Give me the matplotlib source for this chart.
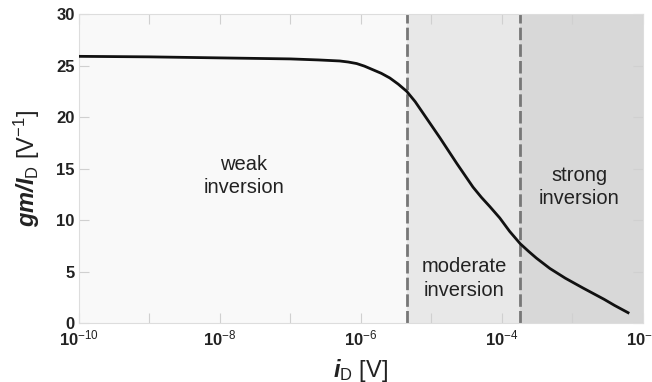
import numpy as np
import matplotlib.pyplot as plt
from matplotlib.ticker import FixedLocator, NullLocator

plt.rcParams['font.family'] = ['Liberation Sans', 'DejaVu Sans']
plt.rcParams['mathtext.fontset'] = 'custom'
plt.rcParams['mathtext.rm'] = 'Liberation Sans'
plt.rcParams['mathtext.it'] = 'Liberation Sans:italic'
plt.rcParams['mathtext.bf'] = 'Liberation Sans:bold'
plt.rcParams['mathtext.bfit'] = 'Liberation Sans:italic:bold'

# gm/Id curve (log10 of drain current, gm/Id in 1/V)
log_id = [-10, -9, -8, -7, -6.6, -6.3, -6.18, -6.06, -5.95, -5.83, -5.71, -5.59,
          -5.47, -5.35, -5.23, -5.12, -5.0, -4.88, -4.76, -4.64, -4.52, -4.41,
          -4.29, -4.17, -4.03, -3.89, -3.74, -3.62, -3.51, -3.32,
          -3.1, -2.85, -2.7, -2.55, -2.4, -2.21]
gm_id = [25.9, 25.85, 25.75, 25.65, 25.55, 25.45, 25.35, 25.2, 24.95, 24.6, 24.25, 23.8,
         23.2, 22.5, 21.5, 20.4, 19.2, 18.0, 16.75, 15.5, 14.3, 13.2,
         12.2, 11.3, 10.2, 8.9, 7.7, 6.95, 6.3, 5.3,
         4.35, 3.4, 2.85, 2.3, 1.7, 1.0]

# region boundaries
bound_weak = 4.5e-6
bound_strong = 1.8e-4

i_d = 10.0 ** np.array(log_id)

fig = plt.figure(figsize=(6.52, 3.82), dpi=100)
ax = fig.add_axes([0.121, 0.1545, 0.865, 0.8085])

ax.axvspan(1e-10, bound_weak, color='#f9f9f9', zorder=0)
ax.axvspan(bound_weak, bound_strong, color='#e8e8e8', zorder=0)
ax.axvspan(bound_strong, 1e-2, color='#d8d8d8', zorder=0)

ax.axvline(bound_weak, color='#777777', lw=2, ls=(0, (4.5, 1.5)), zorder=2)
ax.axvline(bound_strong, color='#777777', lw=2, ls=(0, (4.5, 1.5)), zorder=2)

ax.plot(i_d, gm_id, color='#111111', lw=2, solid_joinstyle='round', zorder=3)

ax.set_xscale('log')
ax.set_xlim(1e-10, 1e-2)
ax.set_ylim(0, 30)

ax.xaxis.set_major_locator(FixedLocator([10.0 ** k for k in range(-10, -1)]))
ax.xaxis.set_minor_locator(NullLocator())
xlabels = []
for k in range(-10, -1):
    xlabels.append(r'$\mathbf{10}^{\mathregular{%d}}$' % k if k % 2 == 0 else '')
ax.set_xticklabels(xlabels)
ax.set_yticks(range(0, 31, 5))
ax.set_yticklabels([str(v) for v in range(0, 31, 5)], fontweight='bold')

ax.tick_params(axis='both', direction='in', length=7, width=0.8, color='#d0d0d0',
               top=True, right=True, labelsize=12, labelcolor='#222222', pad=3)
ax.tick_params(axis='x', labelsize=12, pad=4)
for s in ax.spines.values():
    s.set_color('#dddddd')
    s.set_linewidth(0.8)

ax.set_xlabel(r'$\mathbfit{i}_{\mathregular{D}}$ [V]', fontsize=17, color='#222222', labelpad=6)
ax.set_ylabel(r'$\mathbfit{gm/I}_{\mathregular{D}}$ [V$^{\mathregular{-1}}$]', fontsize=17,
              color='#222222', labelpad=10)

txt = dict(fontsize=14.5, color='#222222', ha='center', va='center', linespacing=1.3)
ax.text(2.2e-8, 14.3, 'weak\ninversion', **txt)
ax.text(2.9e-5, 4.3, 'moderate\ninversion', **txt)
ax.text(1.25e-3, 13.2, 'strong\ninversion', **txt)

fig.savefig('out.png', dpi=100)
